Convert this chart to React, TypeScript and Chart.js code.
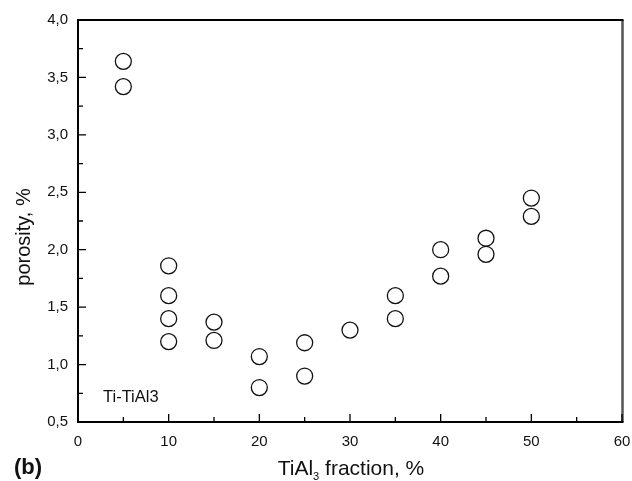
import React, { useEffect, useRef } from "react";
import { Chart, registerables } from "chart.js";

Chart.register(...registerables);

const xValues = [5, 5, 10, 10, 10, 10, 15, 15, 20, 20, 25, 25, 30, 35, 35, 40, 40, 45, 45, 50, 50];
const yValues = [3.64, 3.42, 1.86, 1.6, 1.4, 1.2, 1.37, 1.21, 1.07, 0.8, 1.19, 0.9, 1.3, 1.6, 1.4, 2.0, 1.77, 2.1, 1.96, 2.45, 2.29];
const xMajorTicks = [0, 10, 20, 30, 40, 50, 60];
const xMinorTicks = [5, 15, 25, 35, 45, 55];
const yMajorTicks = [0.5, 1.0, 1.5, 2.0, 2.5, 3.0, 3.5, 4.0];
const yMinorTicks = [0.75, 1.25, 1.75, 2.25, 2.75, 3.25, 3.75];

const FONT = "Arial, 'Liberation Sans', sans-serif";

const framePlugin = {
  id: "frame",
  afterDraw(chart: any) {
    const { ctx, chartArea: a, scales } = chart;
    const xs = scales.x;
    const ys = scales.y;
    ctx.save();
    // right border (grey)
    ctx.strokeStyle = "#555";
    ctx.lineWidth = 2.5;
    ctx.beginPath();
    ctx.moveTo(a.right + 0.5, a.top);
    ctx.lineTo(a.right + 0.5, a.bottom);
    ctx.stroke();
    // top, left, bottom
    ctx.strokeStyle = "#000";
    ctx.lineWidth = 2;
    ctx.beginPath();
    ctx.moveTo(a.right + 1.5, a.top);
    ctx.lineTo(a.left, a.top);
    ctx.lineTo(a.left, a.bottom);
    ctx.lineTo(a.right + 1.5, a.bottom);
    ctx.stroke();

    ctx.lineWidth = 1.3;
    ctx.beginPath();
    xMajorTicks.forEach((v) => {
      const p = xs.getPixelForValue(v);
      ctx.moveTo(p, a.bottom);
      ctx.lineTo(p, a.bottom - 8);
    });
    xMinorTicks.forEach((v) => {
      const p = xs.getPixelForValue(v);
      ctx.moveTo(p, a.bottom);
      ctx.lineTo(p, a.bottom - 5);
    });
    yMajorTicks.forEach((v) => {
      const p = ys.getPixelForValue(v);
      ctx.moveTo(a.left, p);
      ctx.lineTo(a.left + 8, p);
    });
    yMinorTicks.forEach((v) => {
      const p = ys.getPixelForValue(v);
      ctx.moveTo(a.left, p);
      ctx.lineTo(a.left + 5, p);
    });
    ctx.stroke();

    ctx.fillStyle = "#111";
    // y title
    ctx.save();
    ctx.translate(24, 237);
    ctx.rotate(-Math.PI / 2);
    ctx.textAlign = "center";
    ctx.textBaseline = "middle";
    ctx.font = `20px ${FONT}`;
    ctx.fillText("porosity, %", 0, 0);
    ctx.restore();

    // x title with subscript
    ctx.font = `21px ${FONT}`;
    const p1 = "TiAl";
    const p2 = "3";
    const p3 = " fraction, %";
    const w1 = ctx.measureText(p1).width;
    const w3 = ctx.measureText(p3).width;
    ctx.font = `11px ${FONT}`;
    const w2 = ctx.measureText(p2).width;
    const total = w1 + w2 + w3;
    let x = 351 - total / 2;
    const yb = 475;
    ctx.textAlign = "left";
    ctx.textBaseline = "alphabetic";
    ctx.font = `21px ${FONT}`;
    ctx.fillText(p1, x, yb);
    x += w1;
    ctx.font = `11px ${FONT}`;
    ctx.fillText(p2, x, yb + 5);
    x += w2;
    ctx.font = `21px ${FONT}`;
    ctx.fillText(p3, x, yb);

    // (b)
    ctx.font = `bold 22px ${FONT}`;
    ctx.fillText("(b)", 14, 474);

    // annotation
    ctx.font = `16.5px ${FONT}`;
    ctx.fillText("Ti-TiAl3", 103, 402);
    ctx.restore();
  },
};

export default function App() {
  const ref = useRef<HTMLCanvasElement>(null);
  useEffect(() => {
    document.body.style.margin = "0";
    const data = xValues.map((x, i) => ({ x, y: yValues[i] }));
    const chart = new Chart(ref.current!, {
      type: "scatter",
      data: {
        datasets: [
          {
            data,
            pointRadius: 8,
            pointHoverRadius: 8,
            pointBorderWidth: 1.3,
            pointBorderColor: "#111",
            pointBackgroundColor: "rgba(0,0,0,0)",
          },
        ],
      },
      options: {
        animation: false,
        responsive: false,
        layout: { padding: { top: 20, right: 10, left: 0, bottom: 0 } },
        plugins: { legend: { display: false }, tooltip: { enabled: false } },
        scales: {
          x: {
            type: "linear",
            min: 0,
            max: 60,
            afterFit: (s: any) => {
              s.height = 59;
              s.paddingLeft = 0;
              s.paddingRight = 0;
            },
            afterBuildTicks: (s: any) => {
              s.ticks = xMajorTicks.map((v) => ({ value: v }));
            },
            grid: { display: false, drawTicks: false },
            border: { display: false },
            ticks: {
              padding: 11,
              color: "#111",
              font: { size: 15, family: FONT },
              maxRotation: 0,
              callback: (v: any) => String(v),
            },
          },
          y: {
            type: "linear",
            min: 0.5,
            max: 4.0,
            afterFit: (s: any) => {
              s.width = 78;
              s.paddingTop = 0;
              s.paddingBottom = 0;
            },
            afterBuildTicks: (s: any) => {
              s.ticks = yMajorTicks.map((v) => ({ value: v }));
            },
            grid: { display: false, drawTicks: false },
            border: { display: false },
            ticks: {
              padding: 10,
              color: "#111",
              font: { size: 15, family: FONT },
              callback: (v: any) => Number(v).toFixed(1).replace(".", ","),
            },
          },
        },
      },
      plugins: [framePlugin],
    });
    return () => chart.destroy();
  }, []);
  return (
    <div style={{ width: 632, height: 481 }}>
      <canvas ref={ref} width={632} height={481} style={{ display: "block" }} />
    </div>
  );
}
